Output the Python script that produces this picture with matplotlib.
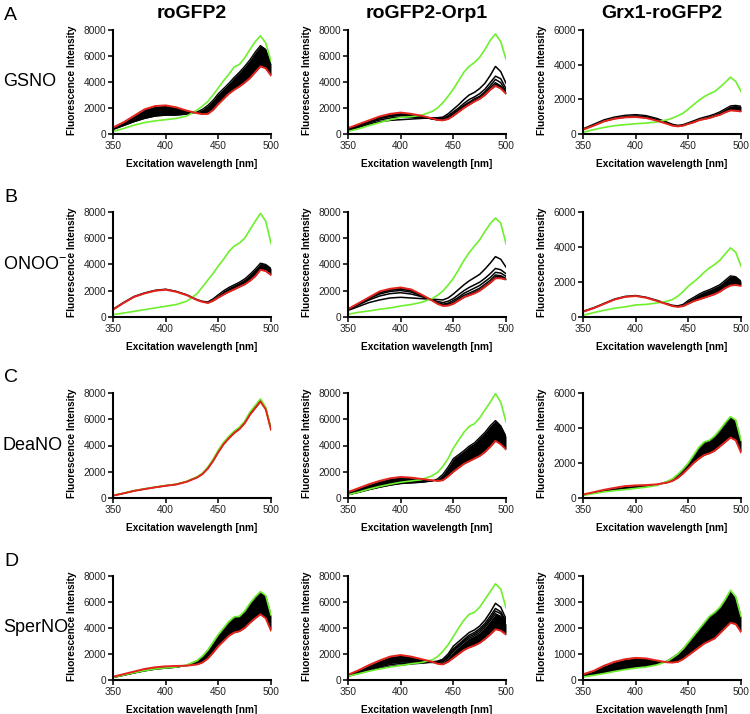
import matplotlib.pyplot as plt

plt.rcParams['font.family'] = ['Liberation Sans', 'DejaVu Sans']
plt.rcParams['mathtext.default'] = 'regular'

wl = [350, 360, 370, 380, 390, 400, 410, 420, 430, 435, 440, 445, 450,
      455, 460, 465, 470, 475, 480, 485, 490, 495, 500]

titles = ['roGFP2', 'roGFP2-Orp1', 'Grx1-roGFP2']
rows = ['GSNO', 'ONOO$^{-}$', 'DeaNO', 'SperNO']
letters = ['A', 'B', 'C', 'D']

# row A: GSNO
A1_green = [200, 420, 680, 880, 1010, 1100, 1200, 1380, 1850, 2150, 2500, 3000, 3550, 4100, 4600, 5150, 5350, 5850, 6500, 7100, 7550, 7000, 5600]
A1_red = [500, 900, 1400, 1900, 2150, 2200, 2050, 1800, 1600, 1530, 1550, 1850, 2300, 2700, 3100, 3400, 3650, 3950, 4300, 4750, 5200, 5050, 4500]
A1_black = [350, 650, 950, 1200, 1380, 1450, 1450, 1530, 1700, 1900, 2200, 2600, 3100, 3500, 3900, 4350, 4750, 5200, 5700, 6300, 6800, 6500, 5400]

A2_green = [200, 400, 650, 880, 1100, 1280, 1330, 1450, 1740, 2000, 2400, 2900, 3450, 4100, 4750, 5200, 5500, 5900, 6500, 7200, 7700, 7100, 5750]
A2_red = [450, 750, 1050, 1350, 1550, 1650, 1550, 1400, 1200, 1080, 1050, 1150, 1400, 1700, 2000, 2250, 2500, 2700, 3000, 3400, 3700, 3500, 3100]
A2_black = [380, 680, 980, 1250, 1430, 1500, 1450, 1330, 1150, 1080, 1080, 1230, 1500, 1780, 2100, 2350, 2600, 2800, 3100, 3550, 3950, 3700, 3200]
A2_lines = [
    [250, 500, 750, 950, 1050, 1100, 1150, 1200, 1250, 1250, 1300, 1550, 1900, 2250, 2650, 3000, 3200, 3500, 3900, 4500, 5200, 4800, 3900],
    [300, 580, 850, 1080, 1230, 1300, 1280, 1250, 1200, 1180, 1200, 1400, 1700, 2000, 2350, 2650, 2850, 3100, 3450, 3950, 4450, 4250, 3500],
    [350, 640, 930, 1180, 1350, 1420, 1380, 1300, 1170, 1120, 1130, 1300, 1580, 1870, 2200, 2450, 2700, 2900, 3250, 3700, 4200, 3950, 3300],
]

A3_green = [100, 250, 380, 480, 540, 590, 630, 690, 820, 920, 1050, 1200, 1440, 1690, 1940, 2150, 2320, 2450, 2700, 2970, 3280, 3030, 2450]
A3_red = [250, 480, 730, 880, 960, 980, 920, 770, 580, 480, 440, 480, 580, 670, 790, 860, 920, 1020, 1110, 1250, 1360, 1340, 1300]
A3_black = [300, 560, 820, 980, 1080, 1120, 1060, 900, 680, 560, 500, 540, 650, 760, 880, 970, 1050, 1150, 1280, 1450, 1620, 1650, 1600]

# row B: ONOO-
B1_green = [180, 300, 430, 560, 690, 820, 950, 1200, 1790, 2300, 2810, 3320, 3890, 4400, 4990, 5400, 5630, 6000, 6650, 7290, 7900, 7300, 5600]
B1_red = [560, 1070, 1530, 1800, 2000, 2080, 1920, 1660, 1280, 1150, 1070, 1230, 1480, 1710, 1920, 2100, 2300, 2480, 2760, 3100, 3600, 3500, 3200]
B1_black = [600, 1110, 1570, 1840, 2040, 2120, 1960, 1700, 1320, 1200, 1150, 1380, 1700, 2000, 2250, 2450, 2650, 2900, 3250, 3650, 4100, 4000, 3700]

B2_green = [200, 360, 460, 590, 690, 840, 950, 1120, 1410, 1660, 1970, 2430, 2940, 3600, 4300, 4900, 5400, 5880, 6520, 7110, 7540, 7160, 5580]
B2_red = [600, 1050, 1500, 1950, 2150, 2250, 2100, 1700, 1250, 1000, 850, 870, 1000, 1250, 1500, 1650, 1800, 2000, 2300, 2600, 2950, 2950, 2850]
B2_black = [590, 1020, 1450, 1850, 2050, 2130, 2000, 1660, 1260, 1040, 920, 960, 1120, 1380, 1650, 1820, 2000, 2200, 2500, 2800, 3200, 3150, 2950]
B2_lines = [
    [500, 800, 1100, 1300, 1450, 1500, 1450, 1400, 1350, 1330, 1300, 1450, 1750, 2100, 2450, 2750, 3000, 3250, 3650, 4100, 4600, 4400, 3800],
    [550, 920, 1300, 1600, 1780, 1850, 1750, 1550, 1300, 1180, 1100, 1200, 1400, 1700, 2000, 2250, 2450, 2650, 2950, 3300, 3700, 3600, 3300],
    [570, 980, 1400, 1750, 1950, 2020, 1900, 1620, 1270, 1080, 980, 1050, 1250, 1500, 1800, 2000, 2200, 2400, 2700, 3000, 3400, 3350, 3100],
]

B3_green = [100, 250, 380, 500, 580, 690, 720, 800, 900, 1000, 1190, 1450, 1760, 2000, 2260, 2550, 2800, 3000, 3250, 3600, 3950, 3700, 2910]
B3_red = [300, 500, 750, 1000, 1150, 1200, 1100, 920, 720, 620, 580, 620, 760, 900, 1000, 1100, 1200, 1300, 1450, 1650, 1800, 1830, 1780]
B3_black = [330, 530, 780, 1030, 1180, 1230, 1130, 960, 760, 670, 640, 720, 950, 1120, 1300, 1450, 1560, 1700, 1850, 2100, 2350, 2300, 2050]

# row C: DeaNO
C1_green = [200, 370, 560, 700, 830, 950, 1050, 1270, 1620, 1900, 2350, 2950, 3650, 4250, 4700, 5100, 5400, 5850, 6550, 7050, 7550, 6900, 5300]
C1_red = [180, 350, 540, 680, 810, 930, 1030, 1240, 1570, 1830, 2250, 2820, 3500, 4100, 4550, 4950, 5250, 5700, 6350, 6850, 7350, 6750, 5200]
C1_black = [190, 360, 550, 690, 820, 940, 1040, 1255, 1600, 1870, 2300, 2890, 3580, 4180, 4630, 5030, 5330, 5780, 6450, 6950, 7450, 6820, 5250]

C2_green = [250, 450, 680, 880, 1050, 1200, 1300, 1400, 1700, 1950, 2400, 3000, 3800, 4400, 5000, 5450, 5650, 6100, 6700, 7300, 7950, 7300, 5800]
C2_red = [450, 750, 1050, 1300, 1500, 1600, 1550, 1450, 1350, 1300, 1350, 1650, 2000, 2300, 2600, 2800, 3000, 3200, 3500, 3900, 4350, 4100, 3700]
C2_black = [250, 430, 640, 820, 980, 1100, 1150, 1200, 1300, 1450, 1800, 2350, 3000, 3300, 3600, 3950, 4200, 4600, 5000, 5500, 5900, 5500, 4700]

C3_green = [150, 250, 350, 420, 480, 550, 620, 720, 950, 1100, 1350, 1650, 2000, 2450, 2900, 3200, 3300, 3550, 3900, 4300, 4650, 4450, 3300]
C3_red = [200, 330, 470, 580, 680, 720, 740, 780, 880, 980, 1150, 1400, 1700, 2000, 2250, 2450, 2550, 2700, 2950, 3200, 3450, 3300, 2600]
C3_black = [170, 280, 400, 480, 550, 610, 670, 750, 930, 1080, 1320, 1620, 1970, 2400, 2850, 3150, 3270, 3500, 3850, 4250, 4600, 4400, 3250]

# row D: SperNO
D1_green = [200, 380, 560, 720, 850, 930, 1000, 1150, 1500, 1850, 2300, 2900, 3500, 4000, 4500, 4850, 4900, 5300, 5900, 6400, 6800, 6500, 5000]
D1_red = [250, 450, 650, 850, 980, 1050, 1080, 1100, 1200, 1350, 1650, 2100, 2600, 3000, 3400, 3650, 3750, 4000, 4400, 4750, 5050, 4750, 3800]
D1_black = [190, 360, 540, 700, 830, 910, 980, 1130, 1480, 1820, 2270, 2860, 3460, 3960, 4450, 4800, 4860, 5250, 5850, 6350, 6750, 6450, 4950]

D2_green = [300, 480, 680, 850, 1000, 1120, 1250, 1350, 1550, 1800, 2200, 2700, 3350, 4000, 4600, 5050, 5200, 5600, 6200, 6800, 7400, 7000, 5550]
D2_red = [400, 750, 1150, 1500, 1800, 1920, 1800, 1600, 1400, 1250, 1200, 1400, 1700, 2000, 2300, 2500, 2650, 2850, 3150, 3500, 3900, 3800, 3500]
D2_black = [350, 600, 900, 1150, 1350, 1450, 1430, 1380, 1350, 1340, 1400, 1700, 2200, 2550, 2900, 3200, 3400, 3650, 4050, 4550, 5100, 4900, 4300]
D2_lines = [
    [300, 500, 720, 900, 1050, 1150, 1230, 1300, 1400, 1450, 1600, 2000, 2600, 2950, 3300, 3650, 3850, 4150, 4600, 5200, 5900, 5600, 4700],
    [320, 550, 800, 1000, 1180, 1280, 1300, 1320, 1380, 1400, 1500, 1850, 2400, 2750, 3100, 3450, 3650, 3950, 4350, 4900, 5500, 5250, 4500],
    [340, 580, 850, 1080, 1280, 1380, 1380, 1350, 1360, 1370, 1450, 1780, 2300, 2650, 3000, 3330, 3520, 3800, 4200, 4700, 5300, 5100, 4400],
]

D3_green = [120, 180, 250, 330, 400, 460, 500, 580, 720, 850, 1000, 1200, 1450, 1700, 1950, 2200, 2450, 2600, 2800, 3100, 3450, 3200, 2450]
D3_red = [220, 350, 550, 700, 800, 850, 830, 750, 680, 670, 700, 800, 950, 1100, 1250, 1400, 1500, 1600, 1800, 2000, 2200, 2150, 1850]
D3_black = [130, 200, 280, 360, 430, 480, 520, 600, 730, 860, 1000, 1190, 1430, 1680, 1930, 2170, 2420, 2570, 2780, 3080, 3420, 3180, 2430]

panels = [
    [(A1_green, A1_red, A1_black, [], 8000, 2000),
     (A2_green, A2_red, A2_black, A2_lines, 8000, 2000),
     (A3_green, A3_red, A3_black, [], 6000, 2000)],
    [(B1_green, B1_red, B1_black, [], 8000, 2000),
     (B2_green, B2_red, B2_black, B2_lines, 8000, 2000),
     (B3_green, B3_red, B3_black, [], 6000, 2000)],
    [(C1_green, C1_red, C1_black, [], 8000, 2000),
     (C2_green, C2_red, C2_black, [], 8000, 2000),
     (C3_green, C3_red, C3_black, [], 6000, 2000)],
    [(D1_green, D1_red, D1_black, [], 8000, 2000),
     (D2_green, D2_red, D2_black, D2_lines, 8000, 2000),
     (D3_green, D3_red, D3_black, [], 4000, 1000)],
]

GREEN = '#6ef02c'
RED = '#e3231c'
W, H = 750, 714

fig = plt.figure(figsize=(7.5, 7.14), dpi=100)

lefts = [113, 348, 583]
tops = [30, 212, 393, 576]
bottoms = [134, 317, 498, 680]
width = 158

for r in range(4):
    for c in range(3):
        green, red, band, lines, ymax, ystep = panels[r][c]
        ax = fig.add_axes([lefts[c] / W, 1 - bottoms[r] / H, width / W,
                           (bottoms[r] - tops[r]) / H])
        ax.fill_between(wl, band, red, color='black', lw=0)
        ax.plot(wl, band, color='black', lw=1.0)
        for ln in lines:
            ax.plot(wl, ln, color='black', lw=1.1)
        ax.plot(wl, green, color=GREEN, lw=1.2)
        ax.plot(wl, red, color=RED, lw=1.4)

        ax.set_xlim(350, 500)
        ax.set_ylim(0, ymax)
        ax.set_xticks([350, 400, 450, 500])
        ax.set_yticks(range(0, ymax + 1, ystep))
        for s in ['top', 'right']:
            ax.spines[s].set_visible(False)
        for s in ['left', 'bottom']:
            ax.spines[s].set_linewidth(1.5)
        ax.tick_params(direction='out', length=3.5, width=1.3, pad=1.5,
                       labelsize=7.3, colors='#222222')
        ax.set_xlabel('Excitation wavelength [nm]', fontsize=7.3,
                      fontweight='bold')
        ax.set_ylabel('Fluorescence Intensity', fontsize=7.3,
                      fontweight='bold')
        ax.xaxis.set_label_coords(0.5, -0.24)
        ax.yaxis.set_label_coords(-0.225, 0.52)

# column titles
for c, t in enumerate(titles):
    fig.text((lefts[c] + width / 2) / W, 1 - 13 / H, t, ha='center',
             va='center', fontsize=14, fontweight='bold')

# row labels and panel letters
for r in range(4):
    yc = (tops[r] + bottoms[r]) / 2
    fig.text(3 / W, 1 - yc / H, rows[r], ha='left', va='center', fontsize=13)
    fig.text(4 / W, 1 - (tops[r] - 15) / H, letters[r], ha='left',
             va='center', fontsize=14)

fig.savefig('out.png', dpi=100)
